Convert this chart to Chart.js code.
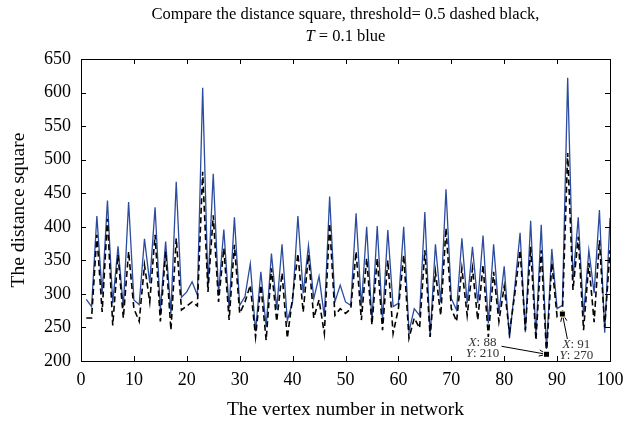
<!DOCTYPE html>
<html>
<head>
<meta charset="utf-8">
<script src="https://cdn.jsdelivr.net/npm/chart.js@4.4.1/dist/chart.umd.min.js"></script>
<style>
  html, body { margin: 0; padding: 0; background: #fff; }
  #wrap { width: 627px; height: 424px; }
</style>
</head>
<body>
<div id="wrap"><canvas id="chart" width="627" height="424"></canvas></div>
<script>
// vertex numbers along the x axis
const vertices = [
  1, 2, 3, 4, 5, 6, 7, 8, 9, 10, 11, 12, 13, 14, 15, 16, 17, 18, 19, 20,
  21, 22, 23, 24, 25, 26, 27, 28, 29, 30, 31, 32, 33, 34, 35, 36, 37, 38, 39, 40,
  41, 42, 43, 44, 45, 46, 47, 48, 49, 50, 51, 52, 53, 54, 55, 56, 57, 58, 59, 60,
  61, 62, 63, 64, 65, 66, 67, 68, 69, 70, 71, 72, 73, 74, 75, 76, 77, 78, 79, 80,
  81, 82, 83, 84, 85, 86, 87, 88, 89, 90, 91, 92, 93, 94, 95, 96, 97, 98, 99, 100
];

// distance square, T = 0.1 (blue)
const distT01 = [
  292, 281, 416, 300, 439, 286, 371, 280, 437, 291, 284, 382, 316, 429, 276, 378, 271, 467, 295, 303,
  318, 298, 607, 312, 479, 301, 396, 278, 414, 283, 296, 345, 244, 333, 251, 360, 278, 374, 260, 288,
  416, 301, 372, 293, 326, 266, 445, 288, 313, 288, 283, 420, 281, 400, 259, 401, 261, 395, 281, 286,
  400, 244, 278, 268, 422, 236, 374, 288, 456, 293, 276, 383, 286, 370, 286, 387, 256, 374, 271, 341,
  234, 310, 391, 243, 409, 236, 403, 218, 367, 278, 283, 622, 321, 414, 268, 365, 301, 425, 242, 413
];

// distance square, threshold = 0.5 (dashed black)
const distThr05 = [
  264, 264, 388, 273, 412, 253, 358, 264, 363, 278, 259, 343, 288, 388, 259, 363, 246, 383, 276, 282,
  288, 282, 482, 303, 417, 288, 368, 261, 373, 271, 288, 313, 236, 313, 231, 338, 259, 331, 234, 295,
  360, 273, 358, 264, 291, 241, 405, 268, 278, 271, 278, 363, 261, 353, 254, 353, 246, 350, 241, 278,
  358, 234, 264, 249, 365, 236, 333, 268, 398, 278, 259, 338, 268, 338, 261, 343, 236, 333, 259, 311,
  242, 300, 365, 246, 370, 231, 365, 210, 346, 266, 270, 510, 306, 385, 246, 346, 258, 380, 250, 365
];

const xTicks = [0, 10, 20, 30, 40, 50, 60, 70, 80, 90, 100];
const yTicks = [200, 250, 300, 350, 400, 450, 500, 550, 600, 650];

// data tips on the dashed curve
const tipVertices = [88, 91];

const SERIF = '"Liberation Serif", "DejaVu Serif", serif';

function toPoints(series) {
  return vertices.map((v, i) => ({ x: v, y: series[i] }));
}

// boxed frame with inward tick marks on all four sides
const framePlugin = {
  id: 'frame',
  afterDatasetsDraw(chart) {
    const { ctx, chartArea: a, scales } = chart;
    const len = 5;
    ctx.save();
    ctx.strokeStyle = '#000';
    ctx.lineWidth = 1;
    ctx.beginPath();
    xTicks.forEach((t) => {
      const px = Math.round(scales.x.getPixelForValue(t)) + 0.5;
      ctx.moveTo(px, a.bottom); ctx.lineTo(px, a.bottom - len);
      ctx.moveTo(px, a.top); ctx.lineTo(px, a.top + len);
    });
    yTicks.forEach((t) => {
      const py = Math.round(scales.y.getPixelForValue(t)) + 0.5;
      ctx.moveTo(a.left, py); ctx.lineTo(a.left + len, py);
      ctx.moveTo(a.right, py); ctx.lineTo(a.right - len, py);
    });
    ctx.stroke();
    ctx.strokeRect(Math.round(a.left) + 0.5, Math.round(a.top) + 0.5,
      Math.round(a.right - a.left), Math.round(a.bottom - a.top));
    ctx.restore();
  }
};

// two-line title with an italic T
const titlePlugin = {
  id: 'twoLineTitle',
  afterDraw(chart) {
    const { ctx, chartArea: a } = chart;
    const cx = (a.left + a.right) / 2;
    const size = 16.5;
    ctx.save();
    ctx.fillStyle = '#000';
    ctx.textBaseline = 'alphabetic';
    ctx.font = size + 'px ' + SERIF;
    ctx.textAlign = 'center';
    ctx.fillText('Compare the distance square, threshold= 0.5 dashed black,', cx, 19);
    ctx.textAlign = 'left';
    const italic = 'italic ' + size + 'px ' + SERIF;
    const normal = size + 'px ' + SERIF;
    const rest = ' = 0.1 blue';
    ctx.font = italic;
    const wT = ctx.measureText('T').width;
    ctx.font = normal;
    const wR = ctx.measureText(rest).width;
    const x0 = cx - (wT + wR) / 2;
    ctx.font = italic;
    ctx.fillText('T', x0, 41);
    ctx.font = normal;
    ctx.fillText(rest, x0 + wT, 41);
    ctx.restore();
  }
};

function arrow(ctx, x1, y1, x2, y2) {
  const ang = Math.atan2(y2 - y1, x2 - x1);
  const h = 8;
  ctx.beginPath();
  ctx.moveTo(x1, y1); ctx.lineTo(x2, y2);
  ctx.moveTo(x2, y2); ctx.lineTo(x2 - h * Math.cos(ang - 0.4), y2 - h * Math.sin(ang - 0.4));
  ctx.moveTo(x2, y2); ctx.lineTo(x2 - h * Math.cos(ang + 0.4), y2 - h * Math.sin(ang + 0.4));
  ctx.stroke();
}

function tipText(ctx, label, value, x, y) {
  const italic = 'italic 13px ' + SERIF;
  const normal = '13px ' + SERIF;
  ctx.font = italic;
  const w1 = ctx.measureText(label).width;
  ctx.font = normal;
  const w2 = ctx.measureText(': ' + value).width;
  const x0 = x - (w1 + w2) / 2;
  ctx.font = italic;
  ctx.fillText(label, x0, y);
  ctx.font = normal;
  ctx.fillText(': ' + value, x0 + w1, y);
}

// data tip boxes for the marked vertices
const tipPlugin = {
  id: 'dataTips',
  afterDraw(chart) {
    const { ctx, scales } = chart;
    const layout = [
      { tx: -64, ty: -8, ax: -45, ay: -8 },
      { tx: 14, ty: 34, ax: 5, ay: 25 }
    ];
    ctx.save();
    tipVertices.forEach((v, k) => {
      const val = distThr05[vertices.indexOf(v)];
      const px = scales.x.getPixelForValue(v);
      const py = scales.y.getPixelForValue(val);
      const L = layout[k];
      ctx.strokeStyle = '#000';
      ctx.lineWidth = 1;
      arrow(ctx, px + L.ax, py + L.ay, px, py);
      ctx.fillStyle = '#ffffc8';
      ctx.fillRect(px - 3.5, py - 3.5, 7, 7);
      ctx.fillStyle = '#000';
      ctx.fillRect(px - 2.5, py - 2.5, 5, 5);
      ctx.fillStyle = '#333';
      ctx.textBaseline = 'alphabetic';
      tipText(ctx, 'X', String(v), px + L.tx, py + L.ty);
      tipText(ctx, 'Y', String(val), px + L.tx, py + L.ty + 11);
    });
    ctx.restore();
  }
};

new Chart(document.getElementById('chart'), {
  type: 'line',
  data: {
    datasets: [
      {
        label: 'threshold = 0.5',
        data: toPoints(distThr05),
        borderColor: '#000',
        borderWidth: 1.6,
        borderDash: [6, 3.5],
        pointRadius: 0,
        tension: 0,
        fill: false,
      },
      {
        label: 'T = 0.1',
        data: toPoints(distT01),
        borderColor: '#2b4b9e',
        borderWidth: 1.3,
        pointRadius: 0,
        tension: 0,
        fill: false,
      },
    ],
  },
  options: {
    responsive: false,
    animation: false,
    devicePixelRatio: 1,
    layout: { padding: { left: 0, top: 59, right: 17, bottom: 0 } },
    plugins: {
      legend: { display: false },
      tooltip: { enabled: false },
      title: { display: false },
    },
    scales: {
      x: {
        type: 'linear',
        min: 0,
        max: 100,
        grid: { display: false, drawTicks: false },
        border: { display: false },
        afterFit(scale) {
          scale.height = 63;
          scale.paddingLeft = 0;
          scale.paddingRight = 0;
        },
        afterBuildTicks(scale) { scale.ticks = xTicks.map((v) => ({ value: v })); },
        ticks: {
          padding: 8,
          color: '#000',
          font: { family: SERIF, size: 18 },
        },
        title: {
          display: true,
          text: 'The vertex number in network',
          color: '#000',
          font: { family: SERIF, size: 19.5 },
          padding: { top: 0, bottom: 2 },
        },
      },
      y: {
        type: 'linear',
        min: 200,
        max: 650,
        grid: { display: false, drawTicks: false },
        border: { display: false },
        afterFit(scale) {
          scale.width = 81;
          scale.paddingTop = 0;
          scale.paddingBottom = 0;
        },
        afterBuildTicks(scale) { scale.ticks = yTicks.map((v) => ({ value: v })); },
        ticks: {
          padding: 10,
          color: '#000',
          font: { family: SERIF, size: 18 },
        },
        title: {
          display: true,
          text: 'The distance square',
          color: '#000',
          font: { family: SERIF, size: 19.5 },
          padding: { top: 7, bottom: 0 },
        },
      },
    },
  },
  plugins: [framePlugin, titlePlugin, tipPlugin],
});
</script>
</body>
</html>
